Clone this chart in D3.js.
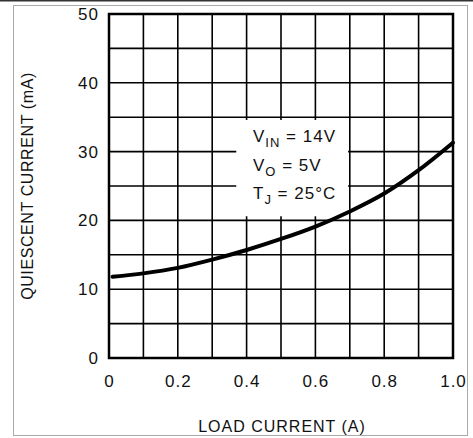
<!DOCTYPE html>
<html>
<head>
<meta charset="utf-8">
<script src="https://cdn.jsdelivr.net/npm/d3@7"></script>
<style>
  body { margin: 0; background: #fff; }
  text { font-family: "Liberation Sans", Arial, sans-serif; fill: #111; }
</style>
</head>
<body>
<svg class="svg-chart" width="473" height="438"></svg>
<script>
// quiescent current vs load current
var loadCurrent = [0.01, 0.1, 0.2, 0.3, 0.4, 0.5, 0.6, 0.7, 0.8, 0.9, 1.0];
var quiescent   = [11.8, 12.3, 13.1, 14.3, 15.7, 17.3, 19.1, 21.3, 23.9, 27.3, 31.3];

var xTicks = [0, 0.2, 0.4, 0.6, 0.8, 1.0];
var xTickLabels = ["0", "0.2", "0.4", "0.6", "0.8", "1.0"];
var yTicks = [0, 10, 20, 30, 40, 50];
var xGrid = d3.range(0, 11).map(function(i) { return i / 10; });
var yGrid = d3.range(0, 11).map(function(i) { return i * 5; });

var conditions = [
  {main: "V", sub: "IN", rest: " = 14V"},
  {main: "V", sub: "O", rest: " = 5V"},
  {main: "T", sub: "J", rest: " = 25°C"}
];

var margin = {top: 14, left: 109},
    width = 344,
    height = 344;

var svg = d3.select(".svg-chart");

// outer frame
svg.append("rect")
    .attr("x", 0).attr("y", 0).attr("width", 473).attr("height", 1.5)
    .style("fill", "#333");
svg.append("rect")
    .attr("x", 13.5).attr("y", 5.5).attr("width", 454).attr("height", 430)
    .style("fill", "none").style("stroke", "#aaa").style("stroke-width", 1);

var x = d3.scaleLinear().domain([0, 1]).range([0, width]);
var y = d3.scaleLinear().domain([0, 50]).range([height, 0]);

var chart = svg.append("g")
    .attr("transform", "translate(" + margin.left + "," + margin.top + ")");

// grid
chart.selectAll(".vgrid")
    .data(xGrid)
    .enter().append("line")
    .attr("class", "vgrid")
    .attr("x1", function(d) { return x(d); })
    .attr("x2", function(d) { return x(d); })
    .attr("y1", 0).attr("y2", height)
    .style("stroke", "#000").style("stroke-width", 1.6);

chart.selectAll(".hgrid")
    .data(yGrid)
    .enter().append("line")
    .attr("class", "hgrid")
    .attr("y1", function(d) { return y(d); })
    .attr("y2", function(d) { return y(d); })
    .attr("x1", 0).attr("x2", width)
    .style("stroke", "#000").style("stroke-width", 1.6);

// white box behind conditions text
chart.append("rect")
    .attr("x", x(0.37)).attr("y", y(34.6))
    .attr("width", x(0.695) - x(0.37)).attr("height", y(20.6) - y(34.6))
    .style("fill", "#fff");

// frame of plot
chart.append("rect")
    .attr("x", 0).attr("y", 0).attr("width", width).attr("height", height)
    .style("fill", "none").style("stroke", "#000").style("stroke-width", 2.5);

// curve
var line = d3.line()
    .x(function(d, i) { return x(loadCurrent[i]); })
    .y(function(d) { return y(d); })
    .curve(d3.curveMonotoneX);

chart.append("path")
    .datum(quiescent)
    .attr("d", line)
    .style("fill", "none")
    .style("stroke", "#000")
    .style("stroke-width", 4)
    .style("stroke-linecap", "round");

// axis labels
var xAxis = d3.axisBottom(x)
    .tickValues(xTicks)
    .tickFormat(function(d, i) { return xTickLabels[i]; })
    .tickSize(0)
    .tickPadding(17);
var gx = chart.append("g")
    .attr("transform", "translate(0," + height + ")")
    .call(xAxis);
gx.select(".domain").remove();
gx.selectAll("text")
    .style("font-size", "17px")
    .style("letter-spacing", "1px")
    .style("font-family", "'Liberation Sans', Arial, sans-serif")
    .style("fill", "#111");

var yAxis = d3.axisLeft(y)
    .tickValues(yTicks)
    .tickFormat(d3.format("d"))
    .tickSize(0)
    .tickPadding(10);
var gy = chart.append("g").call(yAxis);
gy.select(".domain").remove();
gy.selectAll("text")
    .style("font-size", "17px")
    .style("letter-spacing", "1px")
    .style("font-family", "'Liberation Sans', Arial, sans-serif")
    .style("fill", "#111");

// titles
svg.append("text")
    .attr("x", 282).attr("y", 432)
    .attr("text-anchor", "middle")
    .style("font-size", "16px")
    .style("letter-spacing", "1px")
    .text("LOAD CURRENT (A)");

svg.append("text")
    .attr("transform", "translate(33,186) rotate(-90)")
    .attr("text-anchor", "middle")
    .style("font-size", "16px")
    .style("letter-spacing", "0.6px")
    .text("QUIESCENT CURRENT (mA)");

// operating conditions
var cond = chart.selectAll(".cond")
    .data(conditions)
    .enter().append("text")
    .attr("class", "cond")
    .attr("x", 144)
    .attr("y", function(d, i) { return 128 + i * 28.5; })
    .style("font-size", "17px")
    .style("letter-spacing", "1px");
cond.append("tspan").text(function(d) { return d.main; });
cond.append("tspan")
    .attr("dy", 5)
    .style("font-size", "13px")
    .text(function(d) { return d.sub; });
cond.append("tspan")
    .attr("dy", -5)
    .text(function(d) { return d.rest; });
</script>
</body>
</html>
